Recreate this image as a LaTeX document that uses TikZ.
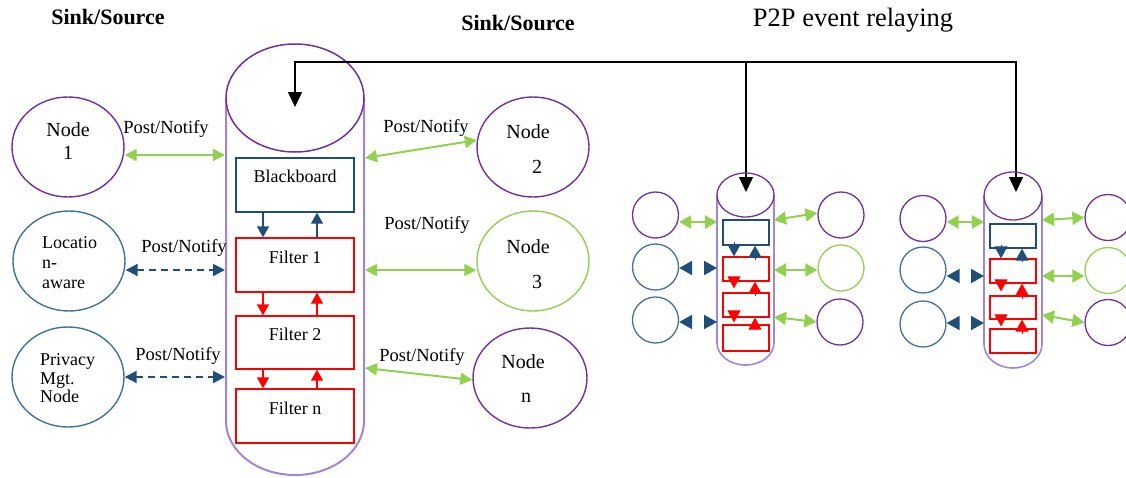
\documentclass[tikz,border=0pt]{standalone}
\usepackage{fontspec}
\setmainfont{Liberation Serif}
\usetikzlibrary{arrows.meta,shapes.geometric}
\definecolor{cpur}{HTML}{7030A0}
\definecolor{clpur}{HTML}{A485D4}
\definecolor{cblue}{HTML}{41719C}
\definecolor{cdblue}{HTML}{1F4E79}
\definecolor{cgrn}{HTML}{92D050}
\definecolor{cred}{HTML}{FF0000}
\begin{document}
\begin{tikzpicture}[x=1pt,y=-1pt,
 txt/.style={inner sep=0pt, font=\fontsize{18}{20}\selectfont},
 pn/.style={inner sep=0pt, font=\fontsize{18.5}{20}\selectfont},
 ntxt/.style={inner sep=0pt, font=\fontsize{20}{22}\selectfont},
 ttl/.style={inner sep=0pt, font=\bfseries\fontsize{22}{24}\selectfont},
 bigell/.style={ellipse, draw, line width=1.4pt, minimum width=112pt, minimum height=100pt, inner sep=0pt},
 smc/.style={circle, draw, line width=1.3pt, minimum size=46pt, inner sep=0pt},
 bx/.style={rectangle, draw, line width=1.4pt, inner sep=0pt},
 garr/.style={cgrn, line width=2pt, {Triangle[length=12pt,width=12pt]}-{Triangle[length=12pt,width=12pt]}},
 barr/.style={cdblue, line width=2pt, dash pattern=on 7pt off 5pt, {Triangle[length=12pt,width=12pt]}-{Triangle[length=12pt,width=12pt]}},
 sgarr/.style={cgrn, line width=2pt, {Triangle[length=12pt,width=13pt]}-{Triangle[length=12pt,width=13pt]}},
 sbarr/.style={cdblue, line width=2pt, dash pattern=on 0pt off 14pt on 5pt off 20pt, {Triangle[length=13pt,width=14pt]}-{Triangle[length=13pt,width=14pt]}},
 varrB/.style={cdblue, line width=1.4pt, -{Triangle[length=11pt,width=12pt]}},
 varrR/.style={cred, line width=1.4pt, -{Triangle[length=11pt,width=12pt]}},
 svarrB/.style={cdblue, line width=1pt, -{Triangle[length=12pt,width=13pt]}},
 svarrR/.style={cred, line width=1pt, -{Triangle[length=12pt,width=13pt]}},
 bkarr/.style={black, line width=1.5pt, {Triangle[length=15pt,width=14pt]}-{Triangle[length=15pt,width=14pt]}},
 bkarr1/.style={black, line width=1.5pt, -{Triangle[length=15pt,width=14pt]}},
]
\useasboundingbox (0,0) rectangle (1126,477);

% titles
\node[ttl] (title1) at (108,17) {Sink/Source};
\node[ttl] (title2) at (518,23) {Sink/Source};
\node[inner sep=0pt, font=\fontsize{26.5}{29}\selectfont] (title3) at (853,20) {P2P event relaying};

% main cylinder
\draw[clpur, line width=2pt] (226,98) -- (226,421) arc[start angle=180,end angle=0,x radius=69,y radius=54] -- (364,98);
\node[ellipse, draw=cpur, line width=1.5pt, minimum width=138pt, minimum height=108pt, inner sep=0pt] (top) at (295,98) {};

\node[bx, draw=cdblue, minimum width=118pt, minimum height=54pt] (bb) at (295,185) {};
\node[txt] (bbt) at ([yshift=9pt]bb.center) {Blackboard};
\node[bx, draw=cred, minimum width=118pt, minimum height=54pt] (f1) at (295,265) {};
\node[txt] (f1t) at ([yshift=8pt]f1.center) {Filter 1};
\node[bx, draw=cred, minimum width=118pt, minimum height=53pt] (f2) at (295,342.5) {};
\node[txt] (f2t) at ([yshift=8.5pt]f2.center) {Filter 2};
\node[bx, draw=cred, minimum width=118pt, minimum height=54pt] (fn) at (295,416) {};
\node[txt] (fnt) at ([yshift=8pt]fn.center) {Filter n};

\draw[varrB] ([xshift=-32pt]bb.south) -- ([xshift=-32pt]f1.north);
\draw[varrB] ([xshift=22pt]f1.north) -- ([xshift=22pt]bb.south);
\draw[varrR] ([xshift=-32pt]f1.south) -- ([xshift=-32pt]f2.north);
\draw[varrR] ([xshift=22pt]f2.north) -- ([xshift=22pt]f1.south);
\draw[varrR] ([xshift=-32pt]f2.south) -- ([xshift=-32pt]fn.north);
\draw[varrR] ([xshift=22pt]fn.north) -- ([xshift=22pt]f2.south);

% left nodes
\node[bigell, draw=cpur] (n1) at (68,147) {};
\node[ntxt] (n1a) at (68,130) {Node};
\node[ntxt] (n1b) at (68,153) {1};
\node[bigell, draw=cblue] (loc) at (69,261) {};
\node[inner sep=0pt, anchor=west, align=left, font=\fontsize{18}{20}\selectfont] (loct) at (42,263) {Locatio\\n-\\aware};
\node[bigell, draw=cblue] (priv) at (68,377) {};
\node[inner sep=0pt, anchor=west, align=left, font=\fontsize{18}{18.5}\selectfont] (privt) at (40,378.5) {Privacy\\Mgt.\\Node};

\coordinate (cl1) at (225,155);
\coordinate (cl2) at (225,270);
\coordinate (cl3) at (225,377);
\coordinate (cr1) at (365,158);
\coordinate (cr2) at (365,270);
\coordinate (cr3) at (365,368);

\draw[garr] (n1.east |- cl1) -- (cl1);
\draw[barr] (loc.east |- cl2) -- (cl2);
\draw[barr] (priv.east) -- (cl3);
\node[pn] (p1) at (166,129) {Post/Notify};
\node[pn] (p2) at (184,248) {Post/Notify};
\node[pn] (p3) at (178,356) {Post/Notify};

% right nodes
\node[bigell, draw=cpur] (n2) at (533,147) {};
\node[ntxt] (n2a) at (528,132) {Node};
\node[ntxt] (n2b) at (537,167) {2};
\node[bigell, draw=cgrn] (n3) at (533,261) {};
\node[ntxt] (n3a) at (528,247) {Node};
\node[ntxt] (n3b) at (537,282) {3};
\node[bigell, draw=cpur, minimum width=114pt] (nn) at (530,378) {};
\node[ntxt] (nna) at (523,362) {Node};
\node[ntxt] (nnb) at (526,398) {n};

\draw[garr] (cr1) -- (n2.173);
\draw[garr] (cr2) -- (n3.west |- cr2);
\draw[garr] (cr3) -- (nn.182);
\node[pn] (p4) at (426,128) {Post/Notify};
\node[pn] (p5) at (427,225) {Post/Notify};
\node[pn] (p6) at (422,357) {Post/Notify};

% black relay lines
\coordinate (bL) at (295,62);
\coordinate (bM) at (746,62);
\coordinate (bR) at (1016,62);
\coordinate (tip0) at (295,107);
\coordinate (tip1) at (746,192);
\coordinate (tip2) at (1016,192);
\draw[bkarr] (tip0) -- (bL) -- (bR) -- (tip2);
\draw[bkarr1] (bM) -- (tip1);

% small cylinder A
\draw[clpur, line width=1.6pt] (717,195) -- (717,343) arc[start angle=180,end angle=0,x radius=28.5,y radius=22] -- (774,195);
\node[ellipse, draw=cpur, line width=1.3pt, minimum width=57pt, minimum height=44pt, inner sep=0pt] (aT) at (745.5,195) {};
\node[bx, draw=cdblue, line width=1.2pt, minimum width=46pt, minimum height=25pt] (aB) at (746,232.5) {};
\node[bx, draw=cred, line width=1.2pt, minimum width=46pt, minimum height=24pt] (aR1) at (746,269) {};
\node[bx, draw=cred, line width=1.2pt, minimum width=46pt, minimum height=24pt] (aR2) at (746,305) {};
\node[bx, draw=cred, line width=1.2pt, minimum width=46pt, minimum height=26pt] (aR3) at (746,338) {};
\draw[svarrB] ([xshift=-12pt,yshift=4pt]aB.south) -- ([xshift=-12pt]aR1.north);
\draw[svarrB] ([xshift=9pt,yshift=-4pt]aR1.north) -- ([xshift=9pt]aB.south);
\draw[svarrR] ([xshift=-12pt,yshift=4pt]aR1.south) -- ([xshift=-12pt,yshift=4pt]aR2.north);
\draw[svarrR] ([xshift=9pt,yshift=-4pt]aR2.north) -- ([xshift=9pt]aR1.south);
\draw[svarrR] ([xshift=-12pt,yshift=4pt]aR2.south) -- ([xshift=-12pt,yshift=2pt]aR3.north);
\draw[svarrR] ([xshift=9pt,yshift=-6pt]aR3.north) -- ([xshift=9pt]aR2.south);

\node[smc, draw=cpur] (aL1) at (655.5,215) {};
\node[smc, draw=cblue] (aL2) at (655.5,267) {};
\node[smc, draw=cblue] (aL3) at (655.5,320) {};
\node[smc, draw=cpur] (aQ1) at (841,215) {};
\node[smc, draw=cgrn] (aQ2) at (841,268) {};
\node[smc, draw=cpur] (aQ3) at (840,322) {};
\coordinate (aCL1) at (717,222);
\coordinate (aCL2) at (717,268);
\coordinate (aCL3) at (717,322);
\coordinate (aCR1) at (774,220);
\coordinate (aCR2) at (774,270);
\coordinate (aCR3) at (774,317);
\draw[sgarr] (aL1.east |- aCL1) -- (aCL1);
\draw[sbarr] (aL2.east |- aCL2) -- (aCL2);
\draw[sbarr] (aL3.east |- aCL3) -- (aCL3);
\draw[sgarr] (aCR1) -- (aQ1.175);
\draw[sgarr] (aCR2) -- (aQ2.west |- aCR2);
\draw[sgarr] (aCR3) -- (aQ3.west);

% small cylinder B
\draw[clpur, line width=1.6pt] (984,196) -- (984,344) arc[start angle=180,end angle=0,x radius=29,y radius=24] -- (1042,196);
\node[ellipse, draw=cpur, line width=1.3pt, minimum width=58pt, minimum height=48pt, inner sep=0pt] (bT) at (1013,196) {};
\node[bx, draw=cdblue, line width=1.2pt, minimum width=46pt, minimum height=24pt] (bB) at (1013,236) {};
\node[bx, draw=cred, line width=1.2pt, minimum width=46pt, minimum height=24pt] (bR1) at (1013,271) {};
\node[bx, draw=cred, line width=1.2pt, minimum width=46pt, minimum height=23pt] (bR2) at (1013,307.5) {};
\node[bx, draw=cred, line width=1.2pt, minimum width=46pt, minimum height=24pt] (bR3) at (1013,341) {};
\draw[svarrB] ([xshift=-12pt,yshift=4pt]bB.south) -- ([xshift=-12pt]bR1.north);
\draw[svarrB] ([xshift=9pt,yshift=-4pt]bR1.north) -- ([xshift=9pt]bB.south);
\draw[svarrR] ([xshift=-12pt,yshift=4pt]bR1.south) -- ([xshift=-12pt,yshift=4pt]bR2.north);
\draw[svarrR] ([xshift=9pt,yshift=-4pt]bR2.north) -- ([xshift=9pt]bR1.south);
\draw[svarrR] ([xshift=-12pt,yshift=4pt]bR2.south) -- ([xshift=-12pt,yshift=2pt]bR3.north);
\draw[svarrR] ([xshift=9pt,yshift=-6pt]bR3.north) -- ([xshift=9pt]bR2.south);

\node[smc, draw=cpur] (bL1) at (923,218.5) {};
\node[smc, draw=cblue] (bL2) at (923,270) {};
\node[smc, draw=cblue] (bL3) at (923,324) {};
\node[smc, draw=cpur] (bQ1) at (1108,217.5) {};
\node[smc, draw=cgrn] (bQ2) at (1108,270.5) {};
\node[smc, draw=cpur] (bQ3) at (1108,322.5) {};
\coordinate (bCL1) at (984,222);
\coordinate (bCL2) at (984,276);
\coordinate (bCL3) at (984,323);
\coordinate (bCR1) at (1042,220);
\coordinate (bCR2) at (1042,276);
\coordinate (bCR3) at (1042,315);
\draw[sgarr] (bL1.east |- bCL1) -- (bCL1);
\draw[sbarr] (bL2.east |- bCL2) -- (bCL2);
\draw[sbarr] (bL3.east |- bCL3) -- (bCL3);
\draw[sgarr] (bCR1) -- (bQ1.west);
\draw[sgarr] (bCR2) -- (bQ2.west |- bCR2);
\draw[sgarr] (bCR3) -- (bQ3.west);
\end{tikzpicture}
\end{document}
